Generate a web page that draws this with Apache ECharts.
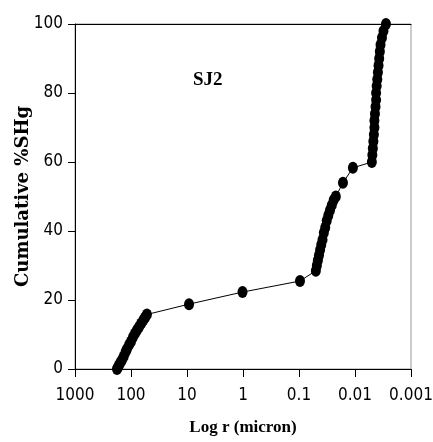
<!DOCTYPE html>
<html>
<head>
<meta charset="utf-8">
<script src="https://cdn.jsdelivr.net/npm/echarts@6/dist/echarts.min.js"></script>
<style>
html,body{margin:0;padding:0;background:#fff;}
#chart{width:433px;height:442px;}
</style>
</head>
<body>
<div id="chart"></div>
<script>
// Pore radius (micron) and cumulative %SHg, sample SJ2
const radius = [
  178, 172, 165, 155, 145, 135, 125, 118, 108, 100, 92, 85, 78, 72, 66, 60, 56, 52,
  9.2, 1.02, 0.096,
  0.050, 0.048, 0.046, 0.044, 0.042, 0.040, 0.038, 0.036, 0.034, 0.032, 0.030, 0.028, 0.026, 0.024, 0.022,
  0.0164, 0.0109,
  0.0050, 0.0049, 0.0048, 0.0047, 0.0046, 0.0045, 0.0045, 0.0044, 0.0043, 0.0042, 0.0042,
  0.0041, 0.0040, 0.0039, 0.0038, 0.0037, 0.0036, 0.0035, 0.0033, 0.0031, 0.0028
];
const cumulative = [
  0, 0.4, 1, 1.8, 2.6, 3.6, 4.9, 5.8, 7, 8, 9.3, 10.3, 11.3, 12.2, 13.2, 14.2, 14.9, 15.8,
  18.8, 22.3, 25.5,
  28.5, 30, 31.5, 33, 34.5, 36, 37.5, 39.5, 41, 43, 44.5, 46, 47.5, 49, 50,
  54, 58.3,
  60, 62, 64, 66, 68, 70, 72, 74, 76, 78, 80,
  82, 84, 86, 88, 90, 92, 94, 96, 98, 100
];
const xTickLabels = {1000: '1000', 100: '100', 10: '10', 1: '1', 0.1: '0.1', 0.01: '0.01', 0.001: '0.001'};
const yTicks = [0, 20, 40, 60, 80, 100];
const sampleName = 'SJ2';
const xTitle = 'Log r (micron)';
const yTitle = 'Cumulative %SHg';

const data = radius.map((r, i) => [r, cumulative[i]]);
const tickFont = "'DejaVu Sans Condensed', 'Liberation Sans Narrow', sans-serif";
const titleFont = "'Liberation Serif', 'DejaVu Serif', serif";

const chart = echarts.init(document.getElementById('chart'), null, {renderer: 'canvas'});
chart.setOption({
  animation: false,
  backgroundColor: '#fff',
  grid: {left: 75, right: 22, top: 24, bottom: 73, show: true, borderColor: '#999', borderWidth: 1,
         containLabel: false, outerBoundsMode: 'none'},
  title: {
    text: sampleName, left: 188, top: 66,
    textStyle: {fontFamily: titleFont, fontWeight: 'bold', fontSize: 19, color: '#000'}
  },
  xAxis: [{
    type: 'log', logBase: 10, min: 0.001, max: 1000, inverse: true,
    name: xTitle, nameLocation: 'middle', nameGap: 50, nameMoveOverlap: false,
    nameTextStyle: {fontFamily: titleFont, fontWeight: 'bold', fontSize: 17, color: '#000'},
    axisLine: {lineStyle: {color: '#000', width: 1}},
    axisTick: {show: true, inside: false, length: 8, lineStyle: {color: '#000'}},
    minorTick: {show: false},
    splitLine: {show: false},
    axisLabel: {
      margin: 18, color: '#000', fontFamily: tickFont, fontSize: 17,
      formatter: v => { const k = Object.keys(xTickLabels).find(t => Math.abs(Math.log10(+t) - Math.log10(v)) < 1e-6); return k !== undefined ? xTickLabels[k] : ''; }
    }
  }, {
    type: 'log', logBase: 10, min: 0.001, max: 1000, inverse: true, position: 'top',
    axisLine: {lineStyle: {color: '#000', width: 1}},
    axisTick: {show: false}, axisLabel: {show: false}, splitLine: {show: false}
  }],
  yAxis: {
    type: 'value', min: 0, max: 100, interval: 20,
    name: yTitle, nameLocation: 'middle', nameGap: 43, nameMoveOverlap: false,
    nameTextStyle: {fontFamily: "'DejaVu Serif', serif", fontWeight: 'bold', fontSize: 18, color: '#000'},
    axisLine: {show: true, lineStyle: {color: '#000', width: 1}},
    axisTick: {show: true, inside: false, length: 7, lineStyle: {color: '#000'}},
    splitLine: {show: false},
    axisLabel: {margin: 12, color: '#000', fontFamily: tickFont, fontSize: 17,
      formatter: v => yTicks.includes(v) ? String(v) : ''}
  },
  series: [{
    type: 'line',
    data: data,
    symbol: 'circle',
    symbolSize: [10, 12],
    showAllSymbol: true,
    itemStyle: {color: '#000'},
    lineStyle: {color: '#000', width: 1},
    clip: false
  }]
});
</script>
</body>
</html>
